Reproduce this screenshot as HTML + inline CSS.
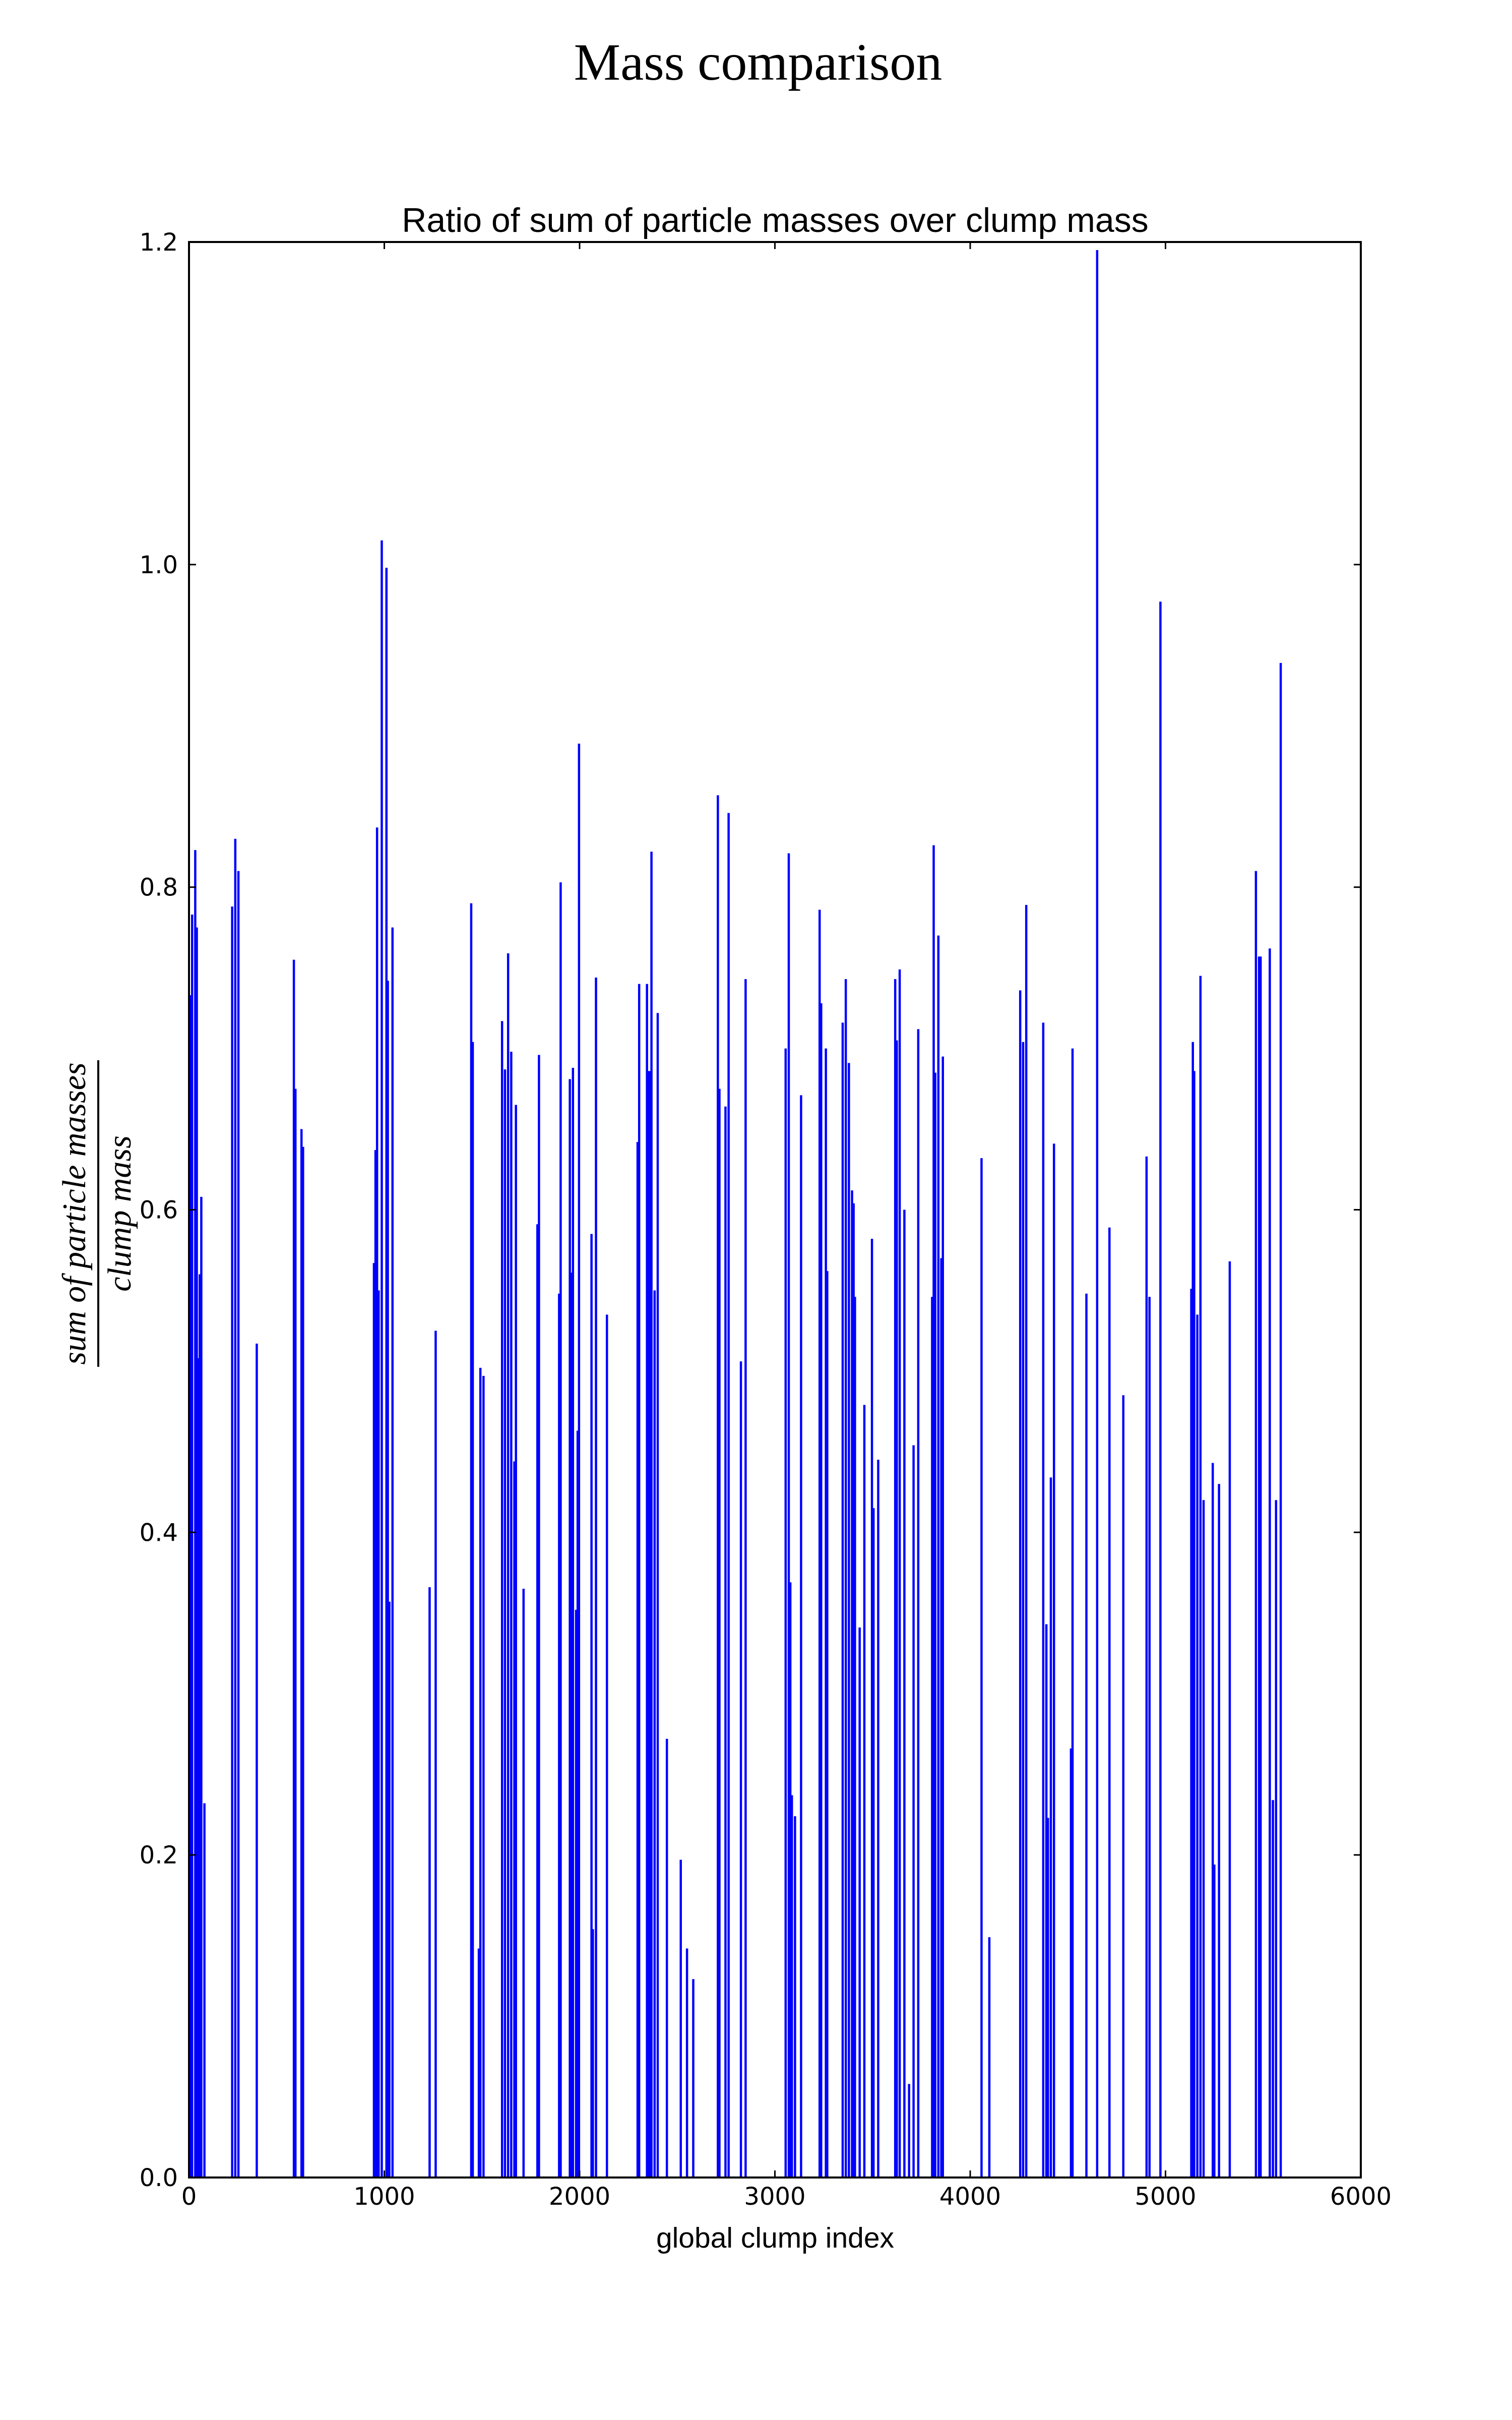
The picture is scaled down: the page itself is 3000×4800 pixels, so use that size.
<!DOCTYPE html>
<html><head><meta charset="utf-8"><style>
html,body{margin:0;padding:0;background:#fff;}
svg{display:block;}
</style></head><body>
<svg id="chart" width="3000" height="4800" viewBox="0 0 3000 4800" xmlns="http://www.w3.org/2000/svg">
<rect x="0" y="0" width="3000" height="4800" fill="#fff"/>
<text x="1504" y="158" text-anchor="middle" font-family="Liberation Serif, serif" font-size="104">Mass comparison</text>
<text x="1538" y="460" text-anchor="middle" font-family="Liberation Sans, sans-serif" font-size="68">Ratio of sum of particle masses over clump mass</text>
<g id="bars"></g>
<rect x="375" y="480" width="2325" height="3839" fill="none" stroke="#000" stroke-width="4"/>
<g id="ticks"></g>
<text x="1538" y="4458" text-anchor="middle" font-family="Liberation Sans, sans-serif" font-size="57">global clump index</text>
<g transform="translate(193,2407) rotate(-90)" font-family="Liberation Serif, serif" font-style="italic" font-size="66">
<text x="0" y="-24" text-anchor="middle">sum of particle masses</text>
<line x1="-304" y1="2" x2="304" y2="2" stroke="#000" stroke-width="4"/>
<text x="0" y="66" text-anchor="middle">clump mass</text>
</g>
</svg>
<script>
const indices=[8,16,32,40,47,55,63,79,221,237,253,347,537,545,576,584,947,955,963,971,987,1011,1018,1026,1042,1232,1263,1445,1453,1484,1492,1508,1603,1618,1634,1650,1666,1674,1713,1784,1792,1895,1903,1950,1958,1966,1982,1990,1997,2061,2068,2084,2140,2297,2305,2345,2353,2361,2368,2384,2400,2447,2518,2550,2582,2708,2716,2747,2763,2826,2850,3055,3071,3079,3087,3103,3134,3229,3237,3261,3268,3347,3363,3379,3395,3403,3410,3434,3458,3497,3505,3529,3616,3624,3639,3663,3687,3710,3734,3805,3813,3821,3837,3852,3860,4058,4098,4256,4271,4287,4374,4390,4398,4413,4429,4516,4524,4595,4650,4713,4784,4903,4918,4974,5132,5140,5147,5163,5179,5195,5242,5250,5274,5329,5463,5479,5487,5534,5550,5566,5590];
const ratios=[0.733,0.783,0.823,0.775,0.508,0.56,0.608,0.232,0.788,0.83,0.81,0.517,0.755,0.675,0.65,0.639,0.567,0.637,0.837,0.55,1.015,0.998,0.742,0.357,0.775,0.366,0.525,0.79,0.704,0.142,0.502,0.497,0.717,0.687,0.759,0.698,0.444,0.665,0.365,0.591,0.696,0.548,0.803,0.681,0.561,0.688,0.352,0.463,0.889,0.585,0.154,0.744,0.535,0.642,0.74,0.74,0.686,0.686,0.822,0.55,0.722,0.272,0.197,0.142,0.123,0.857,0.675,0.664,0.846,0.506,0.743,0.7,0.821,0.369,0.237,0.224,0.671,0.786,0.728,0.7,0.562,0.716,0.743,0.691,0.612,0.604,0.546,0.341,0.479,0.582,0.415,0.445,0.743,0.705,0.749,0.6,0.058,0.454,0.712,0.546,0.826,0.685,0.77,0.57,0.695,0.632,0.149,0.736,0.704,0.789,0.716,0.343,0.223,0.434,0.641,0.266,0.7,0.548,1.195,0.589,0.485,0.633,0.546,0.977,0.551,0.704,0.686,0.535,0.745,0.42,0.443,0.194,0.43,0.568,0.81,0.757,0.757,0.762,0.234,0.42,0.939];
const xTicks=[0,1000,2000,3000,4000,5000,6000];
const yTicks=[0.0,0.2,0.4,0.6,0.8,1.0,1.2];
const X0=375,X1=2700,Y0=4319,Y1=480;
function xs(v){return X0+(v-0)/(6000-0)*(X1-X0);}
function ys(v){return Y0-(v-0)/(1.2-0)*(Y0-Y1);}
const NS='http://www.w3.org/2000/svg';
const bars=document.getElementById('bars');
for(let i=0;i<indices.length;i++){
  const l=document.createElementNS(NS,'line');
  
  
  const x=xs(indices[i]);
  l.setAttribute('x1',x);l.setAttribute('x2',x);
  l.setAttribute('y1',Y0);l.setAttribute('y2',ys(ratios[i]));
  l.setAttribute('stroke','#0000ff');l.setAttribute('stroke-width','4.5');
  bars.appendChild(l);
}
const tg=document.getElementById('ticks');
function mk(tag,attrs){const e=document.createElementNS(NS,tag);for(const k in attrs)e.setAttribute(k,attrs[k]);return e;}
xTicks.forEach(t=>{
  const x=xs(t);
  const a=mk('line',{x1:x,x2:x,y1:Y0,y2:Y0-14,stroke:'#000','stroke-width':3});
  
  
  tg.appendChild(a);
  const b=mk('line',{x1:x,x2:x,y1:Y1,y2:Y1+14,stroke:'#000','stroke-width':3});
  
  
  tg.appendChild(b);
  const tx=mk('text',{x:x,y:Y0+54,'text-anchor':'middle','font-family':'DejaVu Sans, Liberation Sans, sans-serif','font-size':48});
  
  
  tx.textContent=String(t);
  tg.appendChild(tx);
});
yTicks.forEach(t=>{
  const y=ys(t);
  const a=mk('line',{x1:X0,x2:X0+14,y1:y,y2:y,stroke:'#000','stroke-width':3});
  
  
  tg.appendChild(a);
  const b=mk('line',{x1:X1,x2:X1-14,y1:y,y2:y,stroke:'#000','stroke-width':3});
  
  
  tg.appendChild(b);
  const tx=mk('text',{x:X0-22,y:y+17,'text-anchor':'end','font-family':'DejaVu Sans, Liberation Sans, sans-serif','font-size':48});
  
  
  tx.textContent=t.toFixed(1);
  tg.appendChild(tx);
});
</script>
</body></html>
